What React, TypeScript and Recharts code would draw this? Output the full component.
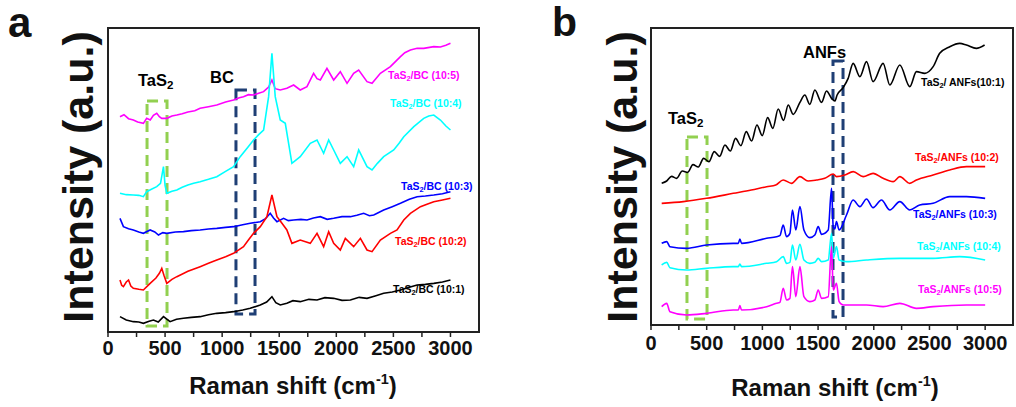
import React from 'react';
import { LineChart, Line, XAxis, YAxis, ReferenceArea } from 'recharts';

// Raman spectra, x = Raman shift (cm-1), y = intensity (a.u., offset stacked)
const xTicks = [0, 250, 500, 750, 1000, 1250, 1500, 1750, 2000, 2250, 2500, 2750, 3000];

// panel a: TaS2/BC
const bc105: [number, number][] = [
  [105, 646], [140, 652], [180, 640], [222, 636], [260, 630], [310, 626], [339, 641], [370, 636], [398, 650],
  [427, 656], [450, 646], [471, 641], [515, 641], [560, 648], [603, 651], [650, 655], [700, 660], [760, 664],
  [807, 671], [880, 676], [953, 681], [1030, 690], [1100, 696], [1150, 703], [1187, 706], [1230, 712], [1275, 711],
  [1320, 716], [1363, 721], [1407, 735], [1436, 756], [1465, 730], [1509, 726], [1567, 731], [1626, 741],
  [1684, 726], [1743, 736], [1801, 776], [1831, 760], [1860, 756], [1918, 791], [1977, 756], [2035, 781],
  [2094, 746], [2152, 776], [2196, 786], [2269, 751], [2313, 746], [2386, 776], [2474, 796], [2520, 812],
  [2562, 826], [2600, 838], [2649, 846], [2708, 851], [2766, 851], [2854, 856], [2912, 855], [2960, 860], [3000, 866],
];
const bc104: [number, number][] = [
  [105, 416], [160, 412], [222, 411], [270, 410], [310, 406], [339, 421], [380, 428], [427, 436], [460, 446],
  [486, 496], [500, 440], [515, 416], [560, 422], [603, 426], [650, 434], [700, 441], [750, 446], [807, 451],
  [880, 458], [953, 466], [1030, 482], [1100, 496], [1158, 526], [1220, 552], [1275, 576], [1320, 592],
  [1363, 606], [1407, 706], [1436, 836], [1465, 706], [1509, 636], [1553, 626], [1585, 560], [1611, 506],
  [1684, 526], [1772, 566], [1831, 576], [1889, 536], [1933, 576], [1977, 546], [2035, 506], [2094, 526],
  [2152, 496], [2196, 546], [2269, 496], [2313, 486], [2360, 506], [2415, 526], [2503, 546], [2550, 566],
  [2591, 586], [2679, 616], [2766, 641], [2810, 648], [2854, 651], [2912, 636], [2960, 618], [3000, 606],
];
const bc103: [number, number][] = [
  [105, 341], [135, 316], [180, 310], [222, 306], [270, 300], [310, 296], [369, 306], [410, 300], [442, 291],
  [480, 298], [515, 296], [590, 300], [661, 301], [730, 304], [807, 306], [880, 309], [953, 311], [1030, 314],
  [1100, 316], [1180, 322], [1246, 326], [1334, 331], [1380, 340], [1421, 356], [1450, 342], [1480, 331],
  [1538, 341], [1580, 334], [1626, 336], [1690, 338], [1743, 336], [1800, 342], [1860, 346], [1920, 338],
  [1977, 341], [2050, 346], [2123, 346], [2180, 350], [2240, 356], [2290, 349], [2328, 351], [2415, 366],
  [2490, 376], [2562, 386], [2640, 398], [2708, 406], [2780, 408], [2854, 411], [2930, 415], [3000, 421],
];
const bc102: [number, number][] = [
  [105, 156], [120, 140], [135, 136], [160, 150], [180, 156], [200, 138], [222, 131], [270, 128], [310, 126],
  [369, 146], [420, 162], [450, 176], [471, 191], [490, 170], [515, 146], [560, 158], [603, 166], [700, 182],
  [807, 196], [880, 206], [953, 216], [1030, 226], [1100, 236], [1187, 256], [1230, 276], [1275, 296],
  [1334, 316], [1392, 346], [1436, 411], [1480, 346], [1524, 326], [1567, 306], [1611, 266], [1684, 276],
  [1772, 266], [1831, 296], [1889, 256], [1933, 301], [1977, 266], [2035, 246], [2079, 281], [2152, 256],
  [2211, 281], [2269, 246], [2313, 241], [2386, 276], [2474, 296], [2532, 306], [2591, 336], [2649, 356],
  [2737, 376], [2800, 384], [2854, 391], [2930, 396], [3000, 401],
];
const bc101: [number, number][] = [
  [105, 46], [160, 36], [222, 31], [270, 30], [310, 26], [360, 32], [398, 36], [440, 30], [486, 46], [544, 31],
  [600, 38], [661, 41], [730, 44], [807, 46], [880, 52], [953, 56], [1030, 58], [1100, 61], [1180, 66],
  [1246, 71], [1334, 81], [1390, 90], [1436, 106], [1470, 88], [1509, 81], [1567, 86], [1620, 94], [1684, 91],
  [1760, 98], [1831, 96], [1900, 103], [1977, 101], [2050, 95], [2123, 96], [2200, 104], [2269, 101],
  [2340, 108], [2415, 116], [2490, 120], [2562, 126], [2640, 134], [2708, 141], [2780, 143], [2854, 146],
  [2930, 150], [3000, 156],
];

// panel b: TaS2/ANFs
const anf101: [number, number][] = [
  [96, 425], [141, 432], [185, 446], [230, 440], [281, 462], [329, 458], [377, 481], [425, 474], [472, 500],
  [520, 490], [568, 520], [616, 506], [664, 540], [712, 522], [759, 560], [807, 538], [855, 580], [903, 552],
  [951, 600], [999, 568], [1047, 622], [1094, 590], [1142, 648], [1190, 614], [1232, 660], [1277, 632],
  [1337, 668], [1381, 690], [1426, 662], [1471, 705], [1531, 668], [1576, 702], [1621, 680], [1650, 672],
  [1671, 690], [1725, 712], [1770, 740], [1815, 785], [1875, 745], [1935, 790], [1994, 730], [2084, 785],
  [2144, 720], [2234, 780], [2323, 715], [2383, 760], [2458, 755], [2533, 775], [2592, 815], [2682, 835],
  [2772, 845], [2832, 840], [2921, 830], [2995, 840],
];
const anf102: [number, number][] = [
  [96, 365], [290, 370], [499, 380], [739, 395], [900, 405], [1038, 415], [1120, 420], [1187, 435],
  [1262, 425], [1337, 445], [1410, 432], [1486, 435], [1560, 440], [1636, 453], [1665, 445], [1740, 450],
  [1815, 460], [1905, 445], [1994, 455], [2084, 440], [2174, 430], [2234, 445], [2323, 425], [2383, 435],
  [2533, 450], [2682, 465], [2832, 475], [3000, 475],
];
const anf103: [number, number][] = [
  [96, 245], [141, 250], [170, 235], [320, 230], [499, 240], [739, 245], [784, 245], [798, 258], [813, 245],
  [1038, 260], [1127, 265], [1157, 268], [1187, 300], [1217, 265], [1247, 275], [1270, 345], [1300, 285],
  [1337, 355], [1373, 285], [1426, 262], [1471, 270], [1501, 295], [1531, 272], [1591, 285], [1621, 410],
  [1636, 295], [1650, 288], [1665, 310], [1689, 285], [1755, 330], [1815, 375], [1875, 355], [1935, 378],
  [1994, 352], [2069, 375], [2144, 345], [2234, 370], [2323, 345], [2413, 360], [2533, 365], [2682, 385],
  [2832, 385], [3000, 380],
];
const anf104: [number, number][] = [
  [96, 180], [141, 188], [170, 172], [320, 165], [499, 170], [739, 175], [784, 175], [798, 183], [813, 175],
  [1038, 185], [1127, 190], [1187, 205], [1217, 185], [1247, 188], [1270, 240], [1300, 195], [1337, 242],
  [1373, 195], [1426, 185], [1471, 188], [1501, 200], [1531, 190], [1591, 195], [1621, 275], [1636, 200],
  [1665, 235], [1689, 195], [1755, 190], [1935, 195], [2234, 200], [2533, 200], [2772, 205], [3000, 195],
];
const anf105: [number, number][] = [
  [96, 55], [141, 65], [170, 40], [320, 30], [499, 35], [739, 45], [784, 45], [798, 58], [813, 45],
  [1038, 55], [1127, 65], [1157, 68], [1187, 110], [1217, 75], [1247, 80], [1270, 175], [1300, 85],
  [1337, 175], [1373, 85], [1426, 70], [1471, 75], [1501, 105], [1531, 80], [1591, 85], [1621, 235],
  [1636, 105], [1665, 125], [1689, 70], [1725, 60], [1815, 60], [1935, 60], [2084, 55], [2234, 65],
  [2383, 50], [2533, 55], [2832, 60], [3000, 60],
];

const pts = (a: [number, number][]) => a.map(([x, y]) => ({ x, y }));

const font = 'Arial, "Liberation Sans", Helvetica, sans-serif';
const green = '#92d050';
const navy = '#1f3f75';

const seriesA = [
  { data: bc105, color: '#ff00ff' },
  { data: bc104, color: '#00ffff' },
  { data: bc103, color: '#0000ff' },
  { data: bc102, color: '#ff0000' },
  { data: bc101, color: '#000000' },
];
const seriesB = [
  { data: anf101, color: '#000000' },
  { data: anf102, color: '#ff0000' },
  { data: anf103, color: '#0000ff' },
  { data: anf104, color: '#00ffff' },
  { data: anf105, color: '#ff00ff' },
];

const Tx = ({ x, y, size = 10.5, color = '#000', children }: any) => (
  <div style={{ position: 'absolute', left: x, top: y, transform: 'translateY(-50%)', fontSize: size, fontWeight: 'bold', color, whiteSpace: 'nowrap', lineHeight: 1 }}>
    {children}
  </div>
);
const Sub = ({ children }: any) => <sub style={{ fontSize: '0.7em', verticalAlign: '-0.25em' }}>{children}</sub>;

const xTick = (v: number) => (v % 500 === 0 ? String(v) : '');

const Panel = ({ series, yMax, left, width, margin, boxes, curve, tickMargin }: any) => (
  <div style={{ position: 'absolute', left, top: 0 }}>
    <LineChart width={width} height={407} margin={margin}>
      <XAxis type="number" dataKey="x" domain={[0, 3250]} ticks={xTicks} tickFormatter={xTick} allowDataOverflow
        axisLine={false} tickLine={{ stroke: '#222', strokeWidth: 1.5 }} tickSize={5} tickMargin={tickMargin}
        tick={{ fill: '#111', fontSize: 20, fontWeight: 'bold', fontFamily: font }} height={30} interval={0} />
      <YAxis type="number" domain={[0, yMax]} hide allowDataOverflow />
      {boxes.map((b: any, i: number) => (
        <ReferenceArea key={i} x1={b.x1} x2={b.x2} y1={b.y1} y2={b.y2} fill="none" fillOpacity={0}
          stroke={b.color} strokeWidth={3} strokeDasharray="11 6" ifOverflow="visible" />
      ))}
      {series.map((s: any, i: number) => (
        <Line key={i} data={pts(s.data)} dataKey="y" type={curve} dot={false} stroke={s.color}
          strokeWidth={1.6} isAnimationActive={false} />
      ))}
    </LineChart>
  </div>
);

export default function App() {
  return (
    <div style={{ position: 'absolute', left: 0, top: 0, width: 1016, height: 407, background: '#fff', fontFamily: font, overflow: 'hidden' }}>
      <Panel series={seriesA} yMax={912} left={0} width={500} curve="linear" tickMargin={4}
        margin={{ top: 28, right: 21, bottom: 45, left: 108 }}
        boxes={[
          { x1: 342, x2: 517, y1: 18, y2: 693, color: green },
          { x1: 1121, x2: 1288, y1: 54, y2: 726, color: navy },
        ]} />
      <Panel series={seriesB} yMax={891} left={540} width={476} curve="monotone" tickMargin={6}
        margin={{ top: 28, right: 3, bottom: 52, left: 111 }}
        boxes={[
          { x1: 323, x2: 503, y1: 18, y2: 564, color: green },
          { x1: 1634, x2: 1724, y1: 24, y2: 792, color: navy },
        ]} />

      {/* frames */}
      <div style={{ position: 'absolute', left: 107, top: 27, width: 373, height: 306, border: '2px solid #222', boxSizing: 'border-box' }} />
      <div style={{ position: 'absolute', left: 650, top: 27, width: 364, height: 299, border: '2px solid #222', boxSizing: 'border-box' }} />

      {/* panel letters */}
      <div style={{ position: 'absolute', left: 8, top: 2, fontSize: 42, fontWeight: 'bold', color: '#111', lineHeight: 1 }}>a</div>
      <div style={{ position: 'absolute', left: 552, top: 2, fontSize: 41, fontWeight: 'bold', color: '#111', lineHeight: 1 }}>b</div>

      {/* y labels */}
      {[78, 622].map((cx) => (
        <div key={cx} style={{ position: 'absolute', left: cx, top: 177, transform: 'translate(-50%, -50%) rotate(-90deg)', fontSize: 43, fontWeight: 'bold', color: '#111', whiteSpace: 'nowrap', lineHeight: 1 }}>
          Intensity (a.u.)
        </div>
      ))}

      {/* x labels */}
      {[[293, 385], [835, 387]].map(([cx, cy]) => (
        <div key={cx} style={{ position: 'absolute', left: cx, top: cy, transform: 'translate(-50%, -50%)', fontSize: 24, fontWeight: 'bold', color: '#111', whiteSpace: 'nowrap', lineHeight: 1 }}>
          Raman shift (cm<sup style={{ fontSize: '0.6em', verticalAlign: '0.7em' }}>-1</sup>)
        </div>
      ))}

      {/* panel a annotations */}
      <Tx x={138} y={82} size={16.5}>TaS<Sub>2</Sub></Tx>
      <Tx x={210} y={77} size={16.5}>BC</Tx>
      <Tx x={388} y={76} color="#ff00ff">TaS<Sub>2</Sub>/BC (10:5)</Tx>
      <Tx x={390} y={104} color="#00ffff">TaS<Sub>2</Sub>/BC (10:4)</Tx>
      <Tx x={401} y={187} color="#0000ff">TaS<Sub>2</Sub>/BC (10:3)</Tx>
      <Tx x={395} y={242} color="#ff0000">TaS<Sub>2</Sub>/BC (10:2)</Tx>
      <Tx x={393} y={290} color="#000">TaS<Sub>2</Sub>/BC (10:1)</Tx>

      {/* panel b annotations */}
      <Tx x={668} y={120} size={16.5}>TaS<Sub>2</Sub></Tx>
      <Tx x={803} y={52} size={16.5}>ANFs</Tx>
      <Tx x={921} y={83} color="#000">TaS<Sub>2</Sub>/ ANFs(10:1)</Tx>
      <Tx x={915} y={158} color="#ff0000">TaS<Sub>2</Sub>/ANFs (10:2)</Tx>
      <Tx x={913} y={215} color="#0000ff">TaS<Sub>2</Sub>/ANFs (10:3)</Tx>
      <Tx x={917} y={247} color="#00ffff">TaS<Sub>2</Sub>/ANFs (10:4)</Tx>
      <Tx x={918} y={290} color="#ff00ff">TaS<Sub>2</Sub>/ANFs (10:5)</Tx>
    </div>
  );
}
